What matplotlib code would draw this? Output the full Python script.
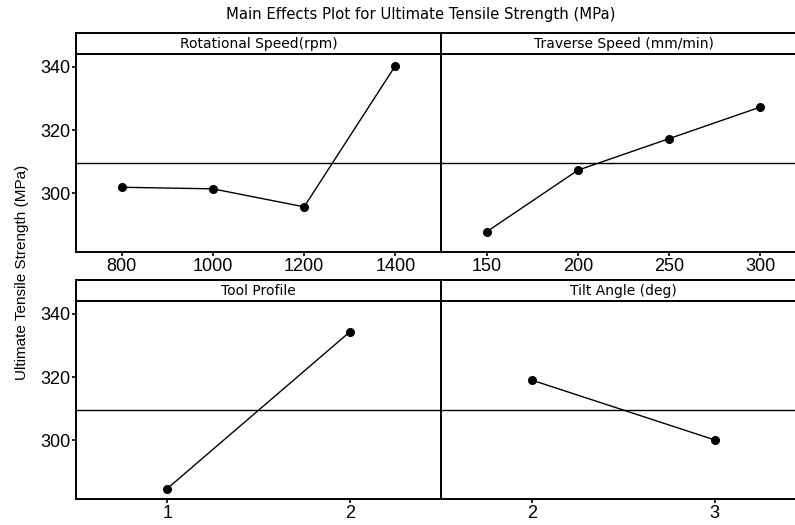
import matplotlib
matplotlib.use("Agg")
import matplotlib.pyplot as plt

# Main effects data (means of Ultimate Tensile Strength, MPa)
rot_speed = ["800", "1000", "1200", "1400"]
rot_means = [301.9, 301.4, 295.7, 340.4]

trav_speed = ["150", "200", "250", "300"]
trav_means = [287.8, 307.3, 317.3, 327.3]

tool_profile = ["1", "2"]
tool_means = [284.7, 334.3]

tilt_angle = ["2", "3"]
tilt_means = [319.0, 300.1]

panel_titles = ["Rotational Speed(rpm)", "Traverse Speed (mm/min)",
                "Tool Profile", "Tilt Angle (deg)"]
grand_mean = 309.7

W, H = 795, 525
fig = plt.figure(figsize=(W / 100, H / 100), dpi=100)


def px_box(x0, x1, y_top, y_bot):
    # convert pixel box (origin top-left) to figure fraction rect
    return [x0 / W, 1 - y_bot / H, (x1 - x0) / W, (y_bot - y_top) / H]


TICK_FAMILY = ["Liberation Sans Narrow", "Liberation Sans", "DejaVu Sans"]
TICK_SIZE = 13
HEAD_FONT = dict(family="DejaVu Sans", size=10)

panels = [
    (rot_speed, rot_means, 76, 441, 33, 54, 252),
    (trav_speed, trav_means, 441, 806, 33, 54, 252),
    (tool_profile, tool_means, 76, 441, 280, 301, 499),
    (tilt_angle, tilt_means, 441, 806, 280, 301, 499),
]

for i, (levels, means, x0, x1, ytop, yhead, ybot) in enumerate(panels):
    ax = fig.add_axes(px_box(x0, x1, yhead, ybot))
    pos = list(range(len(levels)))
    ax.plot(pos, means, color="black", lw=1.0, marker="o", ms=5.5)
    ax.axhline(grand_mean, color="black", lw=1.0)
    ax.set_xlim(-0.5, len(levels) - 0.5)
    ax.set_ylim(281.4, 344.1)
    ax.set_xticks(pos)
    ax.set_xticklabels(levels, family=TICK_FAMILY, size=TICK_SIZE)
    ax.tick_params(axis="x", length=3, width=1.2, pad=1, color="black")
    if i % 2 == 0:
        ax.set_yticks([300, 320, 340])
        ax.set_yticklabels(["300", "320", "340"], family=TICK_FAMILY, size=TICK_SIZE)
        ax.tick_params(axis="y", length=3, width=1.2, pad=1)
    else:
        ax.set_yticks([])
    for sp in ax.spines.values():
        sp.set_linewidth(1.4)
        sp.set_color("black")

    # header strip with factor name
    hax = fig.add_axes(px_box(x0, x1, ytop, yhead))
    hax.set_xticks([])
    hax.set_yticks([])
    for sp in hax.spines.values():
        sp.set_linewidth(1.4)
        sp.set_color("black")
    hax.text(0.5, 0.48, panel_titles[i], ha="center", va="center",
             transform=hax.transAxes, **HEAD_FONT)

fig.text(421 / W, 1 - 14 / H, "Main Effects Plot for Ultimate Tensile Strength (MPa)",
         ha="center", va="center", family="DejaVu Sans", size=10.7)
fig.text(22 / W, 1 - 272 / H, "Ultimate Tensile Strength (MPa)", rotation=90,
         ha="center", va="center", family=["Liberation Sans", "DejaVu Sans"], size=11)

fig.savefig("out.png", dpi=100, facecolor="white")
